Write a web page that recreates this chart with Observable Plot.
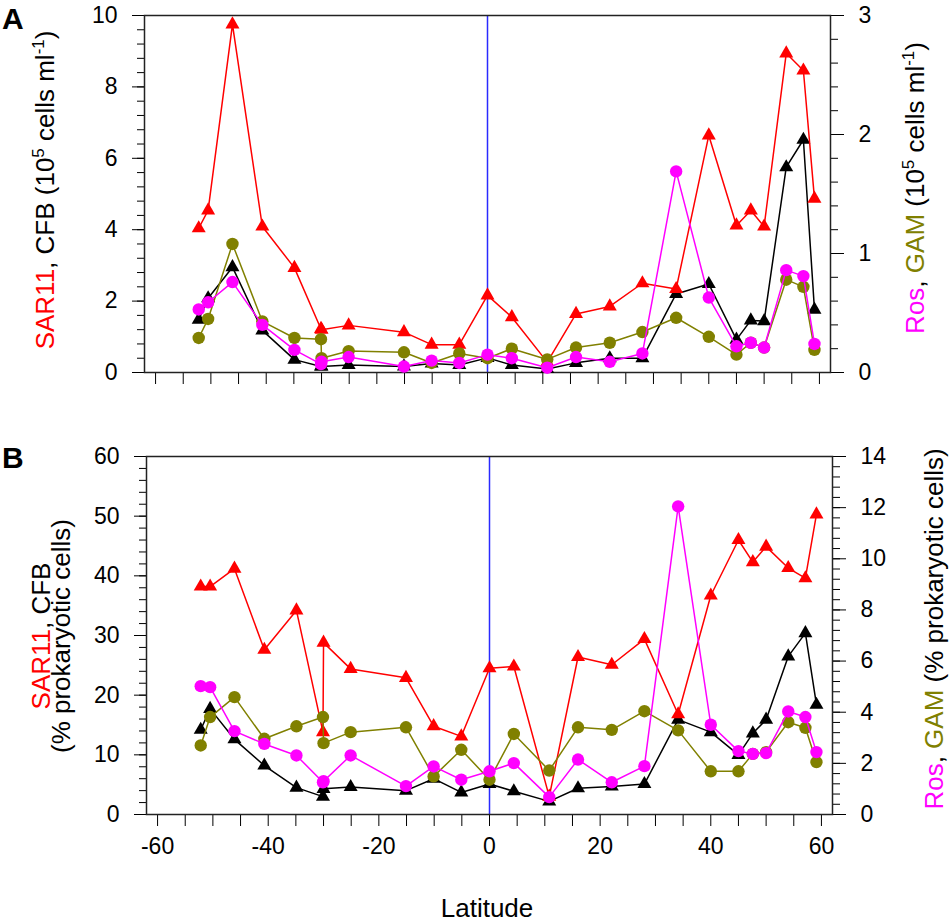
<!DOCTYPE html>
<html>
<head>
<meta charset="utf-8">
<script src="https://cdn.jsdelivr.net/npm/d3@7"></script>
<script src="https://cdn.jsdelivr.net/npm/@observablehq/plot@0.6"></script>
<style>
  body { margin: 0; background: #fff; }
  #chart { width: 950px; height: 923px; }
  #chart svg { display: block; }
</style>
</head>
<body>
<div id="chart"></div>
<script>
// station latitudes (two casts at ~-30)
const latitude = [-52.2, -50.5, -46.1, -40.7, -34.9, -30.1, -30.0, -25.1, -15.1, -10.1, -5.1, 0.0, 4.4,
  10.8, 16.0, 22.1, 28.0, 34.1, 40.0, 45.0, 47.6, 50.0, 54.0, 57.1, 59.1];

// panel A: abundance (10^5 cells ml-1)
const sar11A = [4.04, 4.54, 9.75, 4.09, 2.93, 1.22, 1.20, 1.32, 1.13, 0.78, 0.78, 2.16, 1.55,
  0.29, 1.64, 1.85, 2.50, 2.34, 6.64, 4.12, 4.54, 4.09, 8.94, 8.46, 4.87];
const cfbA = [1.48, 2.08, 2.95, 1.18, 0.36, 0.17, 0.17, 0.21, 0.17, 0.25, 0.21, 0.41, 0.21,
  0.10, 0.27, 0.40, 0.40, 2.20, 2.48, 0.92, 1.46, 1.44, 5.75, 6.52, 1.76];
const rosA = [0.53, 0.59, 0.76, 0.40, 0.19, 0.07, 0.09, 0.13, 0.05, 0.10, 0.08, 0.15, 0.12,
  0.04, 0.13, 0.09, 0.16, 1.69, 0.63, 0.22, 0.25, 0.21, 0.86, 0.81, 0.24];
const gamA = [0.29, 0.45, 1.08, 0.43, 0.29, 0.28, 0.12, 0.18, 0.17, 0.08, 0.16, 0.12, 0.20,
  0.11, 0.21, 0.25, 0.34, 0.46, 0.30, 0.15, 0.25, 0.21, 0.78, 0.72, 0.19];

// panel B: % of prokaryotic cells
const sar11B = [38.2, 38.2, 41.2, 27.6, 34.2, 13.8, 28.8, 24.4, 22.9, 14.8, 13.1, 24.5, 24.8,
  3.0, 26.4, 25.1, 29.4, 16.8, 36.7, 46.0, 42.3, 44.9, 41.3, 39.6, 50.3];
const cfbB = [14.2, 17.7, 12.6, 8.2, 4.5, 3.0, 4.3, 4.6, 4.0, 6.0, 3.7, 5.1, 3.9,
  2.2, 4.4, 4.7, 5.1, 15.9, 13.8, 10.0, 13.6, 15.9, 26.5, 30.4, 18.4];
const rosB = [5.02, 4.98, 3.26, 2.76, 2.31, 1.26, 1.30, 2.31, 1.11, 1.88, 1.36, 1.69, 2.01,
  0.68, 2.15, 1.26, 1.89, 12.05, 3.51, 2.48, 2.37, 2.40, 4.03, 3.81, 2.44];
const gamB = [2.70, 3.81, 4.59, 2.96, 3.45, 3.81, 2.79, 3.22, 3.41, 1.49, 2.53, 1.36, 3.15,
  1.72, 3.41, 3.31, 4.04, 3.29, 1.69, 1.69, 2.37, 2.44, 3.61, 3.39, 2.05];

// ticks
const xTicks = d3.range(-60, 61, 5);
const xLabelTicks = [-60, -40, -20, 0, 20, 40, 60];
const leftTicksA = [0, 2, 4, 6, 8, 10];
const rightTicksA = [0, 1, 2, 3];
const leftTicksB = [0, 10, 20, 30, 40, 50, 60];
const rightTicksB = [0, 2, 4, 6, 8, 10, 12, 14];

const RED = "#ff0000", MAG = "#ff00ff", OLIVE = "#808000", BLK = "#000000";
const FONT = "'Liberation Sans', Arial, sans-serif";

function panel(o) {
  const k = o.yMax / o.rMax;   // right axis -> left axis units
  const rows = latitude.map((lat, i) => ({
    lat, sar11: o.sar11[i], cfb: o.cfb[i], ros: o.ros[i] * k, gam: o.gam[i] * k
  }));
  const minorL = d3.range(0, o.yMax + 1e-9, o.minorL);
  const minorR = d3.range(0, o.rMax + 1e-9, o.minorR).map(v => v * k);

  const series = (key, color, symbol, r) => [
    Plot.line(rows, {x: "lat", y: key, stroke: color, strokeWidth: 1.5}),
    Plot.dot(rows, {x: "lat", y: key, symbol, r, fill: color})
  ];

  return Plot.plot({
    width: 950,
    height: o.height,
    marginTop: o.marginTop,
    marginBottom: o.marginBottom,
    marginLeft: o.marginLeft,
    marginRight: o.marginRight,
    x: {domain: [-62, 62]},
    y: {domain: [0, o.yMax]},
    style: {fontFamily: FONT, fontSize: "23px", color: "#000", background: "#fff", overflow: "visible"},
    marks: [
      Plot.ruleX([0], {stroke: "#2a2aff", strokeWidth: 1.5}),
      Plot.axisX({ticks: xTicks, tickSize: 12, tickPadding: 11, label: null,
        tickFormat: d => (o.xLabels && xLabelTicks.includes(d)) ? String(d) : ""}),
      Plot.axisY({ticks: minorL, tickSize: 7, tickFormat: () => "", label: null}),
      Plot.axisY({ticks: o.leftTicks, tickSize: 12, tickPadding: 15, label: null, tickFormat: d => String(d)}),
      Plot.axisY({ticks: minorR, anchor: "right", tickSize: 7, tickFormat: () => "", label: null}),
      Plot.axisY({ticks: o.rightTicks.map(v => v * k), anchor: "right", tickSize: 13, tickPadding: 15,
        label: null, tickFormat: d => String(Math.round(d / k))}),
      Plot.frame({stroke: "#222", strokeWidth: 1.5}),
      ...series("cfb", BLK, "triangle", 5.2),
      ...series("sar11", RED, "triangle", 5.2),
      ...series("gam", OLIVE, "circle", 6.2),
      ...series("ros", MAG, "circle", 6.2)
    ]
  });
}

// multi-coloured, rotated axis title
function label(svg, x, y, parts, size = 26) {
  const t = d3.select(svg).append("text")
    .attr("transform", `translate(${x},${y}) rotate(-90)`)
    .attr("text-anchor", "middle")
    .style("font-family", FONT)
    .style("font-size", size + "px");
  let raised = false;
  for (const p of parts) {
    const s = t.append("tspan").text(p.text).attr("fill", p.color || "#000");
    if (p.sup && !raised) { s.attr("dy", -10).style("font-size", "0.65em"); raised = true; }
    else if (!p.sup && raised) { s.attr("dy", 10); raised = false; }
  }
  return t;
}

function letter(svg, x, y, txt) {
  d3.select(svg).append("text").attr("x", x).attr("y", y)
    .attr("text-anchor", "start")
    .style("font-family", FONT).style("font-size", "30px").style("font-weight", "bold")
    .text(txt);
}

const chart = document.getElementById("chart");

const svgA = panel({
  height: 410, marginTop: 15, marginBottom: 38, marginLeft: 144, marginRight: 120,
  yMax: 10, rMax: 3, minorL: 0.4, minorR: 0.2,
  leftTicks: leftTicksA, rightTicks: rightTicksA,
  sar11: sar11A, cfb: cfbA, ros: rosA, gam: gamA, xLabels: false
});
chart.append(svgA);
letter(svgA, 2, 29, "A");
label(svgA, 54, 190, [
  {text: "SAR11", color: RED}, {text: ", CFB (10"}, {text: "5", sup: true},
  {text: " cells ml"}, {text: "-1", sup: true}, {text: ")"}
]);
label(svgA, 924, 188, [
  {text: "Ros", color: MAG}, {text: ", "}, {text: "GAM", color: OLIVE}, {text: " (10"},
  {text: "5", sup: true}, {text: " cells ml"}, {text: "-1", sup: true}, {text: ")"}
]);

const svgB = panel({
  height: 513, marginTop: 46, marginBottom: 109, marginLeft: 146, marginRight: 118,
  yMax: 60, rMax: 14, minorL: 2, minorR: 0.4,
  leftTicks: leftTicksB, rightTicks: rightTicksB,
  sar11: sar11B, cfb: cfbB, ros: rosB, gam: gamB, xLabels: true
});
chart.append(svgB);
letter(svgB, 2, 58, "B");
label(svgB, 50, 226, [{text: "SAR11", color: RED}, {text: ", CFB"}]);
label(svgB, 70, 226, [{text: "(% prokaryotic cells)"}]);
label(svgB, 943, 219, [
  {text: "Ros", color: MAG}, {text: ", "}, {text: "GAM", color: OLIVE}, {text: " (% prokaryotic cells)"}
]);
d3.select(svgB).append("text")
  .attr("x", 487).attr("y", 507).attr("text-anchor", "middle")
  .style("font-family", FONT).style("font-size", "26px")
  .text("Latitude");
</script>
</body>
</html>
